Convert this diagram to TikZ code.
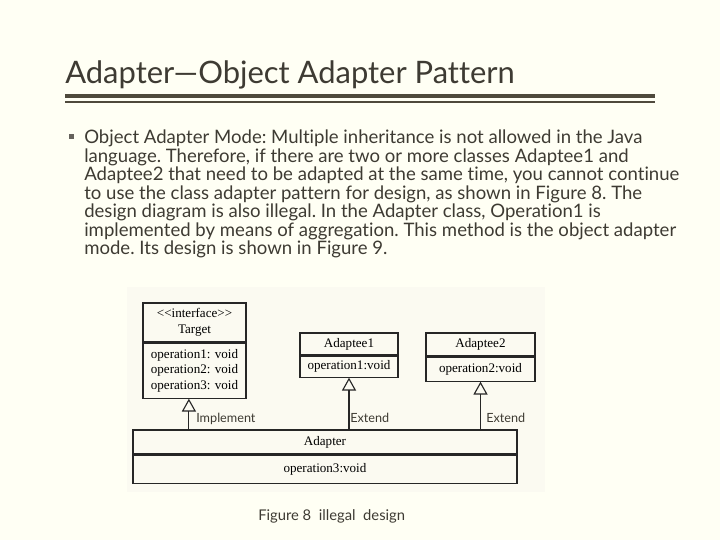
\documentclass[tikz,border=0pt]{standalone}
\usepackage{fontspec}
\newfontfamily\scanfont{Liberation Serif}
\newfontfamily\slidefont[Ligatures=NoCommon]{Lato}
\usepackage{tikz}
\usetikzlibrary{arrows.meta,calc,positioning}
\definecolor{slidebg}{HTML}{FFFFF4}
\definecolor{slideink}{HTML}{3E3B33}
\definecolor{ruleink}{HTML}{4F4A3C}
\definecolor{photobg}{HTML}{FBFAF1}

\begin{document}
\begin{tikzpicture}[
    x=0.025cm,y=-0.025cm,
    umlhead/.style={draw=black!85,thick,inner sep=0pt,align=center,
                    font=\scanfont\fontsize{9.3}{11}\selectfont},
    umlbody/.style={umlhead},
    gen/.style={draw=black!85,thick,-{Triangle[open,width=0.35cm,length=0.32cm]}},
    relname/.style={anchor=base west,inner sep=0pt,text=slideink,
                    font=\slidefont\fontsize{9}{11}\selectfont}
  ]
    \useasboundingbox[fill=slidebg] (0,0) rectangle (720,540);
    % slide heading with its double rule
    \node[anchor=base west,inner sep=0pt,text=slideink,
          font=\slidefont\fontsize{22}{26}\selectfont] (title) at (65,83)
          {Adapter—Object Adapter Pattern};
    \draw[ruleink,line width=2.6pt] (65,96) -- (655,96);
    \draw[ruleink,line width=1.2pt] (65,102) -- (655,102);
    \fill[slideink!80] (69,134) rectangle (74,139);
    \node[anchor=north west,inner sep=0pt,align=left,text=slideink,
          font=\slidefont\frenchspacing\fontsize{13.2}{13.1}\selectfont] (body) at (84,130)
          {Object Adapter Mode: Multiple inheritance is not allowed in the Java\\
           language. Therefore, if there are two or more classes Adaptee1 and\\
           Adaptee2 that need to be adapted at the same time, you cannot continue\\
           to use the class adapter pattern for design, as shown in Figure 8. The\\
           design diagram is also illegal. In the Adapter class, Operation1 is\\
           implemented by means of aggregation. This method is the object adapter\\
           mode. Its design is shown in Figure 9.};
    % scanned figure
    \fill[photobg] (127,287) rectangle (545,492);
    \node[umlhead,minimum width=2.575cm,minimum height=0.975cm] (thead) at (194.5,322.5)
          {<<interface>>\\Target};
    \node[umlbody,minimum width=2.575cm,minimum height=1.375cm,below=0pt of thead] (tbody)
          {operation1: void\\operation2: void\\operation3: void};
    \node[umlhead,minimum width=2.45cm,minimum height=0.55cm] (aonehead) at (349,344)
          {Adaptee1};
    \node[umlbody,minimum width=2.45cm,minimum height=0.525cm,below=0pt of aonehead] (aonebody)
          {operation1:void};
    \node[umlhead,minimum width=2.725cm,minimum height=0.575cm] (atwohead) at (480.5,344.5)
          {Adaptee2};
    \node[umlbody,minimum width=2.725cm,minimum height=0.6cm,below=0pt of atwohead] (atwobody)
          {operation2:void};
    \node[umlhead,minimum width=9.6cm,minimum height=0.6cm] (ahead) at (325,442)
          {Adapter};
    \node[umlbody,minimum width=9.6cm,minimum height=0.7cm,below=0pt of ahead] (abody)
          {operation3:void};
    \coordinate (implfoot) at ([xshift=-0.14cm]tbody.south);
    \draw[gen] (implfoot |- ahead.north) -- (implfoot);
    \draw[gen] (aonebody.south |- ahead.north) -- (aonebody.south);
    \draw[gen] (atwobody.south |- ahead.north) -- (atwobody.south);
    \node[relname] (implname) at (196,422) {Implement};
    \node[relname] (extonename) at (350,422) {Extend};
    \node[relname] (exttwoname) at (486,422) {Extend};
    \node[anchor=base west,inner sep=0pt,text=slideink,
          font=\slidefont\fontsize{10.5}{13}\selectfont] (caption) at (258,520)
          {Figure 8\ \ illegal\ \ design};
  \end{tikzpicture}
\end{document}
